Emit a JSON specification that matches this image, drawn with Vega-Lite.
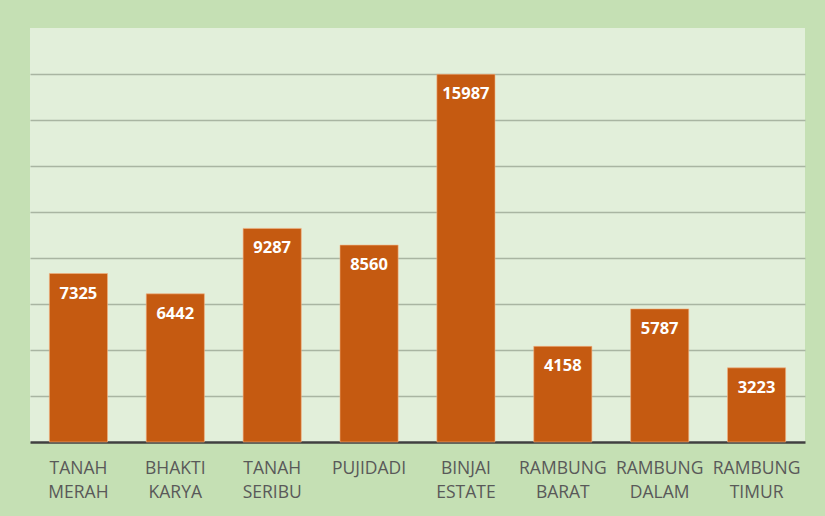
{
  "$schema": "https://vega.github.io/schema/vega-lite/v6.json",
  "width": 775,
  "height": 414,
  "padding": {"left": 30, "top": 28, "right": 20, "bottom": 74},
  "autosize": {"type": "none"},
  "background": "#c5e0b4",
  "config": {
    "view": {"fill": "#e2efda", "stroke": null},
    "font": "Open Sans"
  },
  "data": {
    "values": [
      {"kel": "TANAH MERAH", "v": 7325},
      {"kel": "BHAKTI KARYA", "v": 6442},
      {"kel": "TANAH SERIBU", "v": 9287},
      {"kel": "PUJIDADI", "v": 8560},
      {"kel": "BINJAI ESTATE", "v": 15987},
      {"kel": "RAMBUNG BARAT", "v": 4158},
      {"kel": "RAMBUNG DALAM", "v": 5787},
      {"kel": "RAMBUNG TIMUR", "v": 3223}
    ]
  },
  "encoding": {
    "x": {
      "field": "kel", "type": "nominal", "sort": null,
      "scale": {"paddingInner": 0.4, "paddingOuter": 0.2},
      "axis": {
        "title": null, "labelAngle": 0, "ticks": false,
        "domainColor": "#404040", "domainWidth": 2.5,
        "labelExpr": "split(datum.label, ' ')",
        "labelFontSize": 17.5, "labelColor": "#595959", "labelPadding": 17,
        "labelLineHeight": 24, "labelFont": "Open Sans"
      }
    },
    "y": {
      "field": "v", "type": "quantitative",
      "scale": {"domain": [0, 18000], "nice": false},
      "axis": {
        "title": null, "labels": false, "ticks": false, "domain": false,
        "values": [2000, 4000, 6000, 8000, 10000, 12000, 14000, 16000],
        "gridColor": "#a9b5a2", "gridWidth": 1.5
      }
    }
  },
  "layer": [
    {"mark": {"type": "bar", "color": "#c55a11", "stroke": "#f4b183", "strokeWidth": 0.6}},
    {
      "mark": {"type": "text", "color": "white", "fontWeight": "bold", "fontSize": 16.5, "baseline": "top", "dy": 12, "font": "Open Sans"},
      "encoding": {"text": {"field": "v", "type": "quantitative", "format": "d"}}
    }
  ]
}
